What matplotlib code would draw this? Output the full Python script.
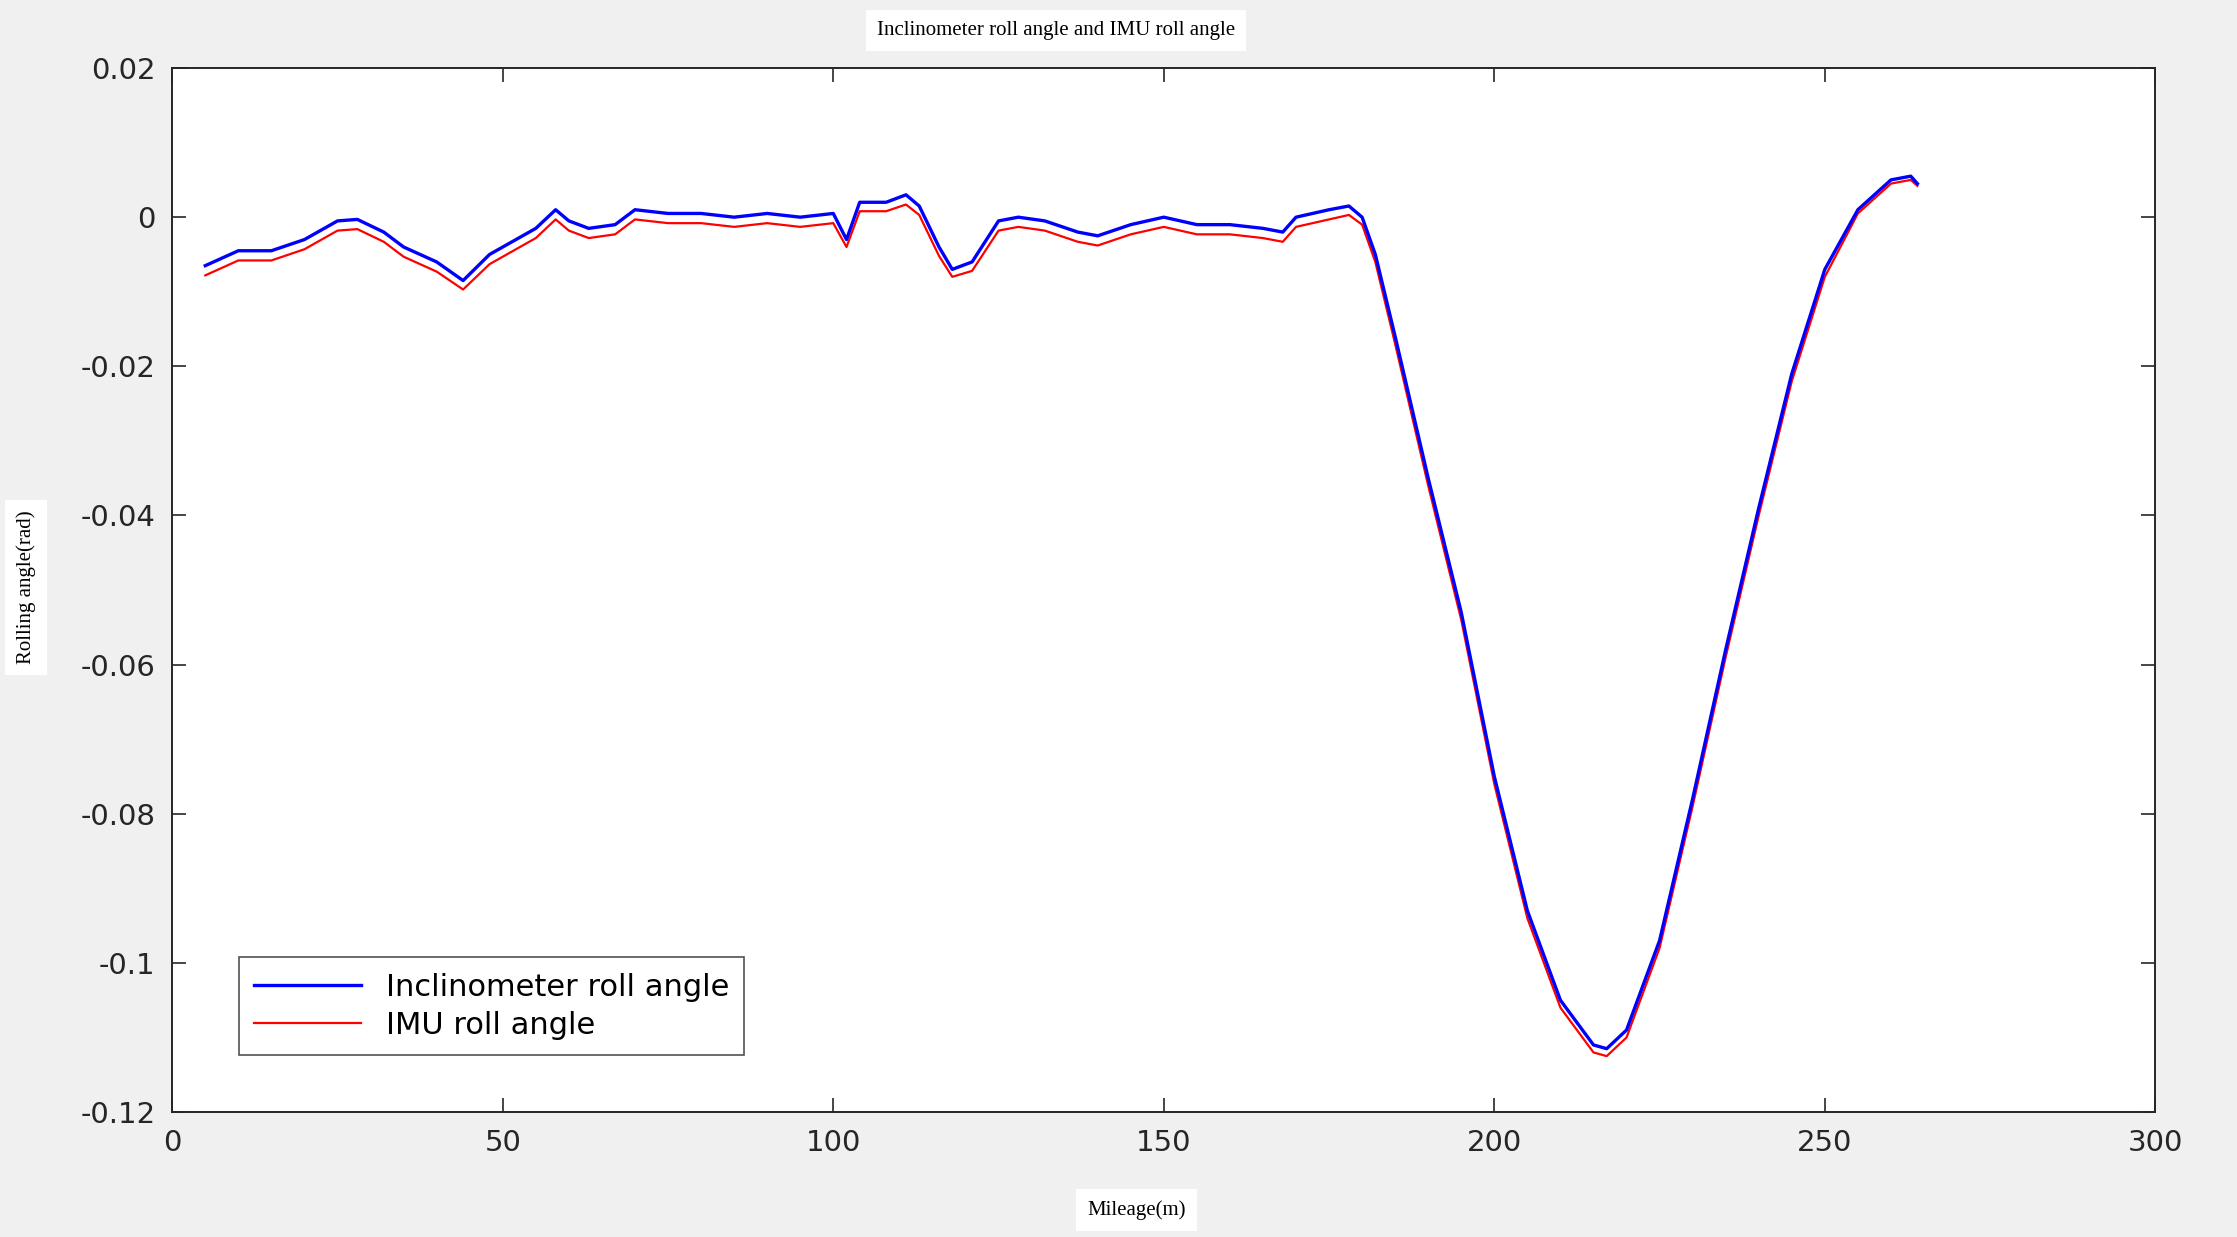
import matplotlib.pyplot as plt

# Inclinometer (blue) and IMU (red) roll angle vs mileage
mileage = [5, 10, 15, 20, 25, 28, 32, 35, 40, 44, 48, 52, 55, 58, 60, 63, 67, 70, 75,
           80, 85, 90, 95, 100, 102, 104, 108, 111, 113, 116, 118, 121, 125, 128, 132,
           137, 140, 145, 150, 155, 160, 165, 168, 170, 175, 178, 180, 182, 185, 190,
           195, 200, 205, 210, 215, 217, 220, 225, 230, 235, 240, 245, 250, 255, 260,
           263, 264]
incl_roll = [-0.0065, -0.0045, -0.0045, -0.003, -0.0005, -0.0003, -0.002, -0.004, -0.006,
             -0.0085, -0.005, -0.003, -0.0015, 0.001, -0.0005, -0.0015, -0.001, 0.001,
             0.0005, 0.0005, 0.0, 0.0005, 0.0, 0.0005, -0.003, 0.002, 0.002, 0.003, 0.0015,
             -0.004, -0.007, -0.006, -0.0005, 0.0, -0.0005, -0.002, -0.0025, -0.001, 0.0,
             -0.001, -0.001, -0.0015, -0.002, 0.0, 0.001, 0.0015, 0.0, -0.005, -0.016,
             -0.035, -0.053, -0.075, -0.093, -0.105, -0.111, -0.1115, -0.109, -0.097,
             -0.078, -0.058, -0.039, -0.021, -0.007, 0.001, 0.005, 0.0055, 0.0045]
imu_roll = [-0.0078, -0.0058, -0.0058, -0.0043, -0.0018, -0.0016, -0.0033, -0.0053, -0.0073,
            -0.0097, -0.0063, -0.0043, -0.0028, -0.0003, -0.0018, -0.0028, -0.0023, -0.0003,
            -0.0008, -0.0008, -0.0013, -0.0008, -0.0013, -0.0008, -0.0040, 0.0008, 0.0008,
            0.0017, 0.0003, -0.0052, -0.0080, -0.0072, -0.0018, -0.0013, -0.0018, -0.0033,
            -0.0038, -0.0023, -0.0013, -0.0023, -0.0023, -0.0028, -0.0033, -0.0013, -0.0003,
            0.0003, -0.0010, -0.0060, -0.0170, -0.0360, -0.0540, -0.0760, -0.0940, -0.1060,
            -0.1120, -0.1125, -0.1100, -0.0980, -0.0790, -0.0590, -0.0400, -0.0220, -0.0080,
            0.0005, 0.0045, 0.0050, 0.0042]

xticks = [0, 50, 100, 150, 200, 250, 300]
yticks = [0.02, 0, -0.02, -0.04, -0.06, -0.08, -0.1, -0.12]
ytick_labels = ['0.02', '0', '-0.02', '-0.04', '-0.06', '-0.08', '-0.1', '-0.12']

fig = plt.figure(figsize=(22.37, 12.37), dpi=100, facecolor='#f0f0f0')
ax = fig.add_axes([0.077, 0.101, 0.8865, 0.844])
ax.set_facecolor('white')

ax.plot(mileage, imu_roll, color='red', lw=1.6, label='IMU roll angle')
ax.plot(mileage, incl_roll, color='blue', lw=2.4, label='Inclinometer roll angle')

ax.set_xlim(0, 300)
ax.set_ylim(-0.12, 0.02)
ax.set_xticks(xticks)
ax.set_yticks(yticks)
ax.set_yticklabels(ytick_labels)
ax.tick_params(direction='in', length=10, width=1.2, labelsize=21, top=True, right=True,
               colors='#262626', pad=12)
for s in ax.spines.values():
    s.set_color('#262626')
    s.set_linewidth(1.4)

h, l = ax.get_legend_handles_labels()
leg = ax.legend(h[::-1], l[::-1], loc='lower left', bbox_to_anchor=(0.026, 0.04),
                fontsize=22, fancybox=False, edgecolor='#262626', handlelength=3.5,
                borderpad=0.5, labelspacing=0.3)
leg.get_frame().set_linewidth(1.2)

white_box = dict(facecolor='white', edgecolor='none', pad=8)
fig.text(0.472, 0.975, 'Inclinometer roll angle and IMU roll angle', ha='center',
         va='center', family='Liberation Serif', fontsize=15, bbox=white_box)
fig.text(0.0115, 0.525, 'Rolling angle(rad)', rotation=90, ha='center', va='center',
         family='Liberation Serif', fontsize=15, bbox=white_box)
fig.text(0.508, 0.022, 'Mileage(m)', ha='center', va='center',
         family='Liberation Serif', fontsize=15, bbox=white_box)

fig.savefig('out.png', dpi=100, facecolor=fig.get_facecolor())
